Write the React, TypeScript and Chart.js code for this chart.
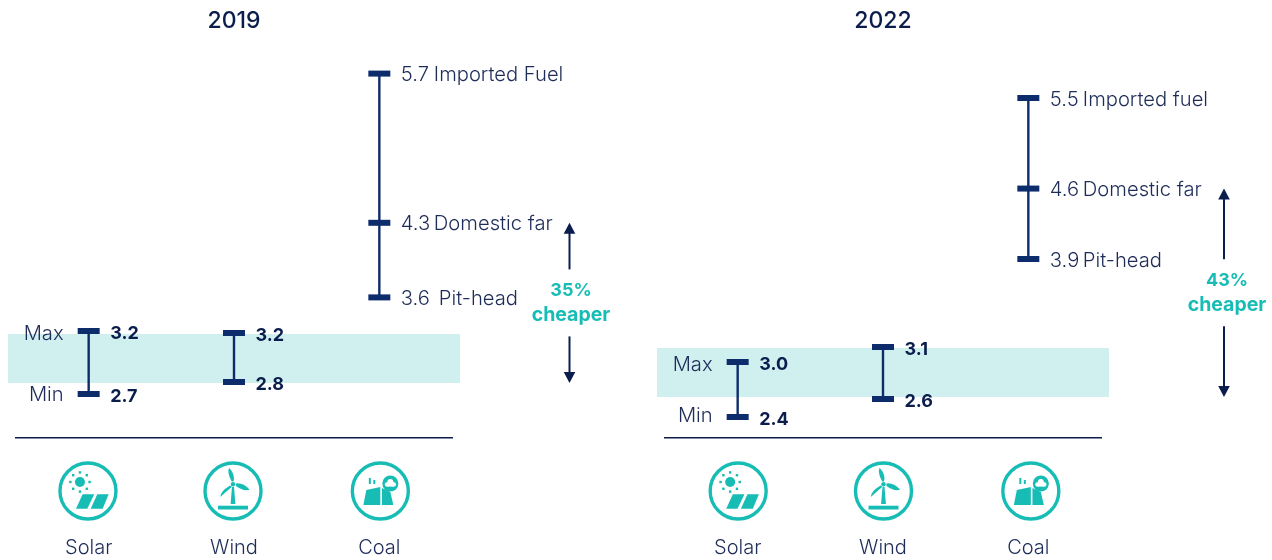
import React, { useEffect, useRef } from "react";
import { Chart, registerables } from "chart.js";

Chart.register(...registerables);

const categories = ["Solar", "Wind", "Coal"];
const solar2019 = [2.7, 3.2];
const wind2019 = [2.8, 3.2];
const coal2019 = [3.6, 4.3, 5.7];
const band2019 = [2.8, 3.2];
const coalNames2019 = ["Pit-head", "Domestic far", "Imported Fuel"];
const solar2022 = [2.4, 3.0];
const wind2022 = [2.6, 3.1];
const coal2022 = [3.9, 4.6, 5.5];
const band2022 = [2.6, 3.1];
const coalNames2022 = ["Pit-head", "Domestic far", "Imported fuel"];

const FAMILY = "Inter, Lato, 'Open Sans', sans-serif";
const NAVY = "#0b1d4d";
const STEM = "#0d2c6c";
const SOFT = "#1e2c58";
const TEAL = "#17bdb5";
const BAND = "#d0f0ef";
const TOP = 40;
const BOTTOM = 438;
const LIGHT = "300 20.2px";

// scale range so that two (value, pixel) anchors land where the infographic has them
function range(v1: number, p1: number, v2: number, p2: number) {
  const k = (p2 - p1) / (v1 - v2);
  return { min: v1 - (BOTTOM - p1) / k, max: v1 + (p1 - TOP) / k };
}

function yAxis(r: { min: number; max: number }) {
  return { type: "linear", display: false, min: r.min, max: r.max };
}

function drawSolar(c: CanvasRenderingContext2D) {
  c.beginPath();
  c.arc(-8, -9, 5, 0, Math.PI * 2);
  c.fill();
  for (let i = 0; i < 8; i++) {
    const a = (i * Math.PI) / 4;
    c.fillRect(-8 + Math.cos(a) * 9.6 - 1.2, -9 + Math.sin(a) * 9.6 - 1.2, 2.4, 2.4);
  }
  const panels = [
    [-12, -0.7, 6.3, -5.3],
    [2.7, 14.7, 20.7, 9.3],
  ];
  for (const p of panels) {
    c.beginPath();
    c.moveTo(p[0], 17.7);
    c.lineTo(p[1], 17.7);
    c.lineTo(p[2], 3.3);
    c.lineTo(p[3], 3.3);
    c.closePath();
    c.fill();
  }
}

function drawWind(c: CanvasRenderingContext2D) {
  c.fillRect(-15, 14.7, 30, 3.8);
  c.beginPath();
  c.moveTo(-1, -4);
  c.lineTo(1, -4);
  c.lineTo(2.4, 13);
  c.lineTo(-2.4, 13);
  c.closePath();
  c.fill();
  c.beginPath();
  c.arc(0, -6.7, 2.2, 0, Math.PI * 2);
  c.fill();
  // each blade: base A, control, tip, control, base B
  const blades = [
    [0.6, -9.6, 2.4, -17, -4, -23.3, -6, -18, -1.4, -9.6],
    [3, -7.6, 10, -8.5, 16.7, -1.3, 10, 0.5, 3, -5],
    [-1, -4.2, -6, 0, -12.7, 5.9, -13, 0.5, -3, -5.6],
  ];
  for (const b of blades) {
    c.beginPath();
    c.moveTo(b[0], b[1]);
    c.quadraticCurveTo(b[2], b[3], b[4], b[5]);
    c.quadraticCurveTo(b[6], b[7], b[8], b[9]);
    c.closePath();
    c.fill();
  }
}

function drawCoal(c: CanvasRenderingContext2D) {
  c.beginPath();
  c.moveTo(-17, 14);
  c.lineTo(0, 14);
  c.lineTo(0, -4);
  c.lineTo(-14, -1);
  c.closePath();
  c.fill();
  c.beginPath();
  c.moveTo(1.6, 14);
  c.lineTo(13, 14);
  c.lineTo(10, 1);
  c.lineTo(1.6, -3);
  c.closePath();
  c.fill();
  c.fillRect(-11.5, -13, 2, 6);
  c.fillRect(-7, -11, 2, 4);
  c.beginPath();
  c.arc(10, -7.5, 8, 0, Math.PI * 2);
  c.fill();
  c.fillStyle = "#ffffff";
  c.beginPath();
  c.arc(6.6, -6.6, 2.2, 0, Math.PI * 2);
  c.arc(10, -9, 3, 0, Math.PI * 2);
  c.arc(13.5, -6.6, 2.2, 0, Math.PI * 2);
  c.fill();
  c.fillRect(6.6, -7, 7, 2.6);
  c.fillStyle = TEAL;
}

const iconDrawers = [drawSolar, drawWind, drawCoal];

function text(
  c: CanvasRenderingContext2D,
  s: string,
  x: number,
  y: number,
  font: string,
  color: string,
  align: CanvasTextAlign = "left"
) {
  c.font = font + " " + FAMILY;
  c.fillStyle = color;
  c.textAlign = align;
  c.textBaseline = "middle";
  c.fillText(s, x, y);
}

function arrow(c: CanvasRenderingContext2D, x: number, tip: number, end: number) {
  const dir = tip < end ? 1 : -1;
  c.strokeStyle = NAVY;
  c.lineWidth = 2;
  c.beginPath();
  c.moveTo(x, tip + dir * 8);
  c.lineTo(x, end);
  c.stroke();
  c.fillStyle = NAVY;
  c.beginPath();
  c.moveTo(x, tip);
  c.lineTo(x + 5.8, tip + dir * 11);
  c.lineTo(x - 5.8, tip + dir * 11);
  c.closePath();
  c.fill();
}

interface Panel {
  year: string;
  solar: number[];
  wind: number[];
  coal: number[];
  band: number[];
  coalNames: string[];
  cheaper: string;
  scales: { solar: number[]; wind: number[]; coal: number[]; band: number[] };
  left: number;
  right: number;
  arrowDx: number;
  textDx: number;
  textDy: number;
  pitNudge: number;
  maxMinY: number[];
  iconDx: number[];
}

const p2019: Panel = {
  year: "2019",
  solar: solar2019,
  wind: wind2019,
  coal: coal2019,
  band: band2019,
  coalNames: coalNames2019,
  cheaper: "35%",
  scales: {
    solar: [3.2, 331, 2.7, 394],
    wind: [3.2, 333, 2.8, 382],
    coal: [5.7, 73.6, 3.6, 297.4],
    band: [3.2, 334, 2.8, 383],
  },
  left: 16,
  right: 184,
  arrowDx: 117.5,
  textDx: 119,
  textDy: 0,
  pitNudge: 5,
  maxMinY: [334, 395],
  iconDx: [-0.7, -1, 1],
};

const p2022: Panel = {
  year: "2022",
  solar: solar2022,
  wind: wind2022,
  coal: coal2022,
  band: band2022,
  coalNames: coalNames2022,
  cheaper: "43%",
  scales: {
    solar: [3.0, 362, 2.4, 417],
    wind: [3.1, 347, 2.6, 399],
    coal: [5.5, 98, 3.9, 259],
    band: [3.1, 348, 2.6, 397],
  },
  left: 29,
  right: 171,
  arrowDx: 123,
  textDx: 126,
  textDy: 0,
  pitNudge: 0,
  maxMinY: [365, 416],
  iconDx: [0.5, 0.5, 2.5],
};

function makeChart(canvas: HTMLCanvasElement, p: Panel) {
  const pts = (cat: string, vals: number[]) => vals.map((y) => ({ x: cat, y }));
  const set = (cat: string, vals: number[], axis: string) => ({
    type: "line",
    label: cat,
    data: pts(cat, vals),
    yAxisID: axis,
    borderColor: STEM,
    borderWidth: 2.4,
    pointStyle: "line",
    pointRadius: 11,
    pointBorderWidth: 6,
    pointBorderColor: STEM,
    pointBackgroundColor: STEM,
    clip: false,
    tension: 0,
  });

  const decor = {
    id: "decor",
    beforeDatasetsDraw(chart: any) {
      const c = chart.ctx;
      const a = chart.chartArea;
      const y = chart.scales.yBand;
      const top = y.getPixelForValue(p.band[1]);
      const bot = y.getPixelForValue(p.band[0]);
      c.save();
      c.fillStyle = BAND;
      c.fillRect(a.left - 8, top, a.right - a.left + 16, bot - top);
      c.restore();
    },
    afterDatasetsDraw(chart: any) {
      const c = chart.ctx;
      const a = chart.chartArea;
      c.save();
      // value labels
      const groups = [0, 1, 2].map((i) => chart.getDatasetMeta(i).data);
      const vals = [p.solar, p.wind, p.coal];
      groups.forEach((els: any[], g: number) => {
        els.forEach((el: any, i: number) => {
          const lx = el.x + 21.5;
          if (g < 2) {
            text(c, vals[g][i].toFixed(1), lx, el.y + 2.6, "700 18px", NAVY);
          } else {
            text(c, vals[g][i].toFixed(1), lx, el.y + 1.6, LIGHT, SOFT);
            text(c, p.coalNames[i], lx + 33 + (i === 0 ? p.pitNudge : 0), el.y + 1.6, LIGHT, SOFT);
          }
        });
      });
      const sx = groups[0][0].x - 25;
      text(c, "Max", sx, p.maxMinY[0], LIGHT, SOFT, "right");
      text(c, "Min", sx, p.maxMinY[1], LIGHT, SOFT, "right");
      // gap arrows
      const ax = a.right + p.arrowDx;
      const tipTop = chart.scales.yCoal.getPixelForValue(p.coal[1]);
      const tipBot = chart.scales.yBand.getPixelForValue(p.band[0]);
      const mid = (tipTop + tipBot) / 2;
      arrow(c, ax, tipTop, mid - 33.5);
      arrow(c, ax, tipBot, mid + 33.5);
      text(c, p.cheaper, a.right + p.textDx, mid - 12 + p.textDy, "700 18px", TEAL, "center");
      text(c, "cheaper", a.right + p.textDx, mid + 12 + p.textDy, "700 19.5px", TEAL, "center");
      // icons
      const xs = chart.scales.x;
      categories.forEach((cat, i) => {
        const x = xs.getPixelForValue(i) + p.iconDx[i];
        c.save();
        c.translate(x, 491);
        c.strokeStyle = TEAL;
        c.fillStyle = TEAL;
        c.lineWidth = 3.4;
        c.beginPath();
        c.arc(0, 0, 28, 0, Math.PI * 2);
        c.stroke();
        iconDrawers[i](c);
        c.restore();
      });
      c.restore();
    },
  };

  return new Chart(canvas, {
    type: "line",
    data: {
      labels: categories,
      datasets: [
        set("Solar", p.solar, "ySolar"),
        set("Wind", p.wind, "yWind"),
        set("Coal", p.coal, "yCoal"),
      ],
    },
    options: {
      responsive: false,
      animation: false,
      layout: { autoPadding: false, padding: { left: p.left, right: p.right, top: 0, bottom: 0 } },
      plugins: {
        legend: { display: false },
        tooltip: { enabled: false },
        title: {
          display: true,
          text: p.year,
          fullSize: false,
          color: NAVY,
          font: { family: FAMILY, size: 23, weight: "500", lineHeight: 1.2 },
          padding: { top: 7.5, bottom: 4.9 },
        },
      },
      scales: {
        x: {
          type: "category",
          offset: true,
          grid: { display: false, drawTicks: true, tickLength: 98 },
          border: { display: true, color: NAVY, width: 1.5 },
          afterFit: (s: any) => {
            s.height = 560 - BOTTOM;
          },
          ticks: {
            color: SOFT,
            padding: 0,
            font: { family: FAMILY, size: 20, weight: "300" },
            maxRotation: 0,
          },
        },
        ySolar: yAxis(range(p.scales.solar[0], p.scales.solar[1], p.scales.solar[2], p.scales.solar[3])),
        yWind: yAxis(range(p.scales.wind[0], p.scales.wind[1], p.scales.wind[2], p.scales.wind[3])),
        yCoal: yAxis(range(p.scales.coal[0], p.scales.coal[1], p.scales.coal[2], p.scales.coal[3])),
        yBand: yAxis(range(p.scales.band[0], p.scales.band[1], p.scales.band[2], p.scales.band[3])),
      },
    } as any,
    plugins: [decor],
  } as any);
}

export default function App() {
  const a = useRef<HTMLCanvasElement>(null);
  const b = useRef<HTMLCanvasElement>(null);
  useEffect(() => {
    const c1 = makeChart(a.current!, p2019);
    const c2 = makeChart(b.current!, p2022);
    return () => {
      c1.destroy();
      c2.destroy();
    };
  }, []);
  const st = (left: number): React.CSSProperties => ({
    position: "absolute",
    left,
    top: 0,
    width: 636,
    height: 560,
    display: "block",
  });
  return (
    <div style={{ position: "absolute", left: 0, top: 0, width: 1272, height: 560, background: "#fff", overflow: "hidden" }}>
      <canvas ref={a} width={636} height={560} style={st(0)} />
      <canvas ref={b} width={636} height={560} style={st(636)} />
    </div>
  );
}
